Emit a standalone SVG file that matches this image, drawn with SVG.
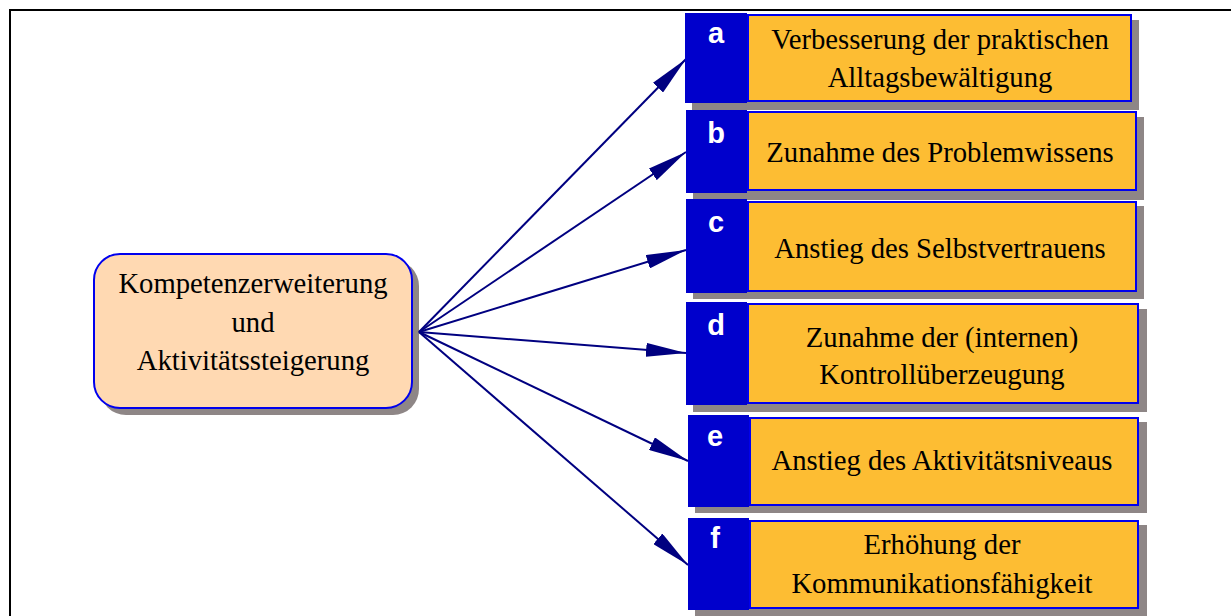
<svg xmlns="http://www.w3.org/2000/svg" width="1231" height="616" viewBox="0 0 1231 616">
<defs>
<style>
.frame{fill:none;stroke:#000;stroke-width:2}
.sh{fill:#8E8686}
.tab{fill:#0000CC}
.box{fill:#FDBD33;stroke:#0000EE;stroke-width:2}
.main{fill:#FFD9B2;stroke:#0000EE;stroke-width:2}
.t{font-family:"Liberation Serif","Times New Roman",serif;font-size:28.7px;fill:#000;text-anchor:middle}
.l{font-family:"Liberation Sans",Arial,sans-serif;font-size:29px;font-weight:bold;fill:#fff;text-anchor:middle}
.c{fill:none;stroke:#000080;stroke-width:2}
</style>
<marker id="ah" markerUnits="userSpaceOnUse" viewBox="0 0 40 14" refX="40" refY="7" markerWidth="40" markerHeight="14" orient="auto">
<path d="M0,0 L40,7 L0,14 z" fill="#000080"/>
</marker>
</defs>
<rect class="frame" x="10" y="10" width="1400" height="800"/>

<g id="main">
<rect class="sh" x="100" y="260" width="319" height="155" rx="26"/>
<rect class="main" x="94" y="254" width="318" height="154" rx="26"/>
<text class="t" x="253" y="293">Kompetenzerweiterung</text>
<text class="t" x="253" y="332">und</text>
<text class="t" x="253" y="370">Aktivitätssteigerung</text>
</g>

<g id="connectors">
<line class="c" x1="419" y1="332" x2="686" y2="59" marker-end="url(#ah)"/>
<line class="c" x1="419" y1="332" x2="686" y2="152" marker-end="url(#ah)"/>
<line class="c" x1="419" y1="332" x2="686" y2="250" marker-end="url(#ah)"/>
<line class="c" x1="419" y1="332" x2="686" y2="353" marker-end="url(#ah)"/>
<line class="c" x1="419" y1="332" x2="688" y2="461" marker-end="url(#ah)"/>
<line class="c" x1="419" y1="332" x2="688" y2="565" marker-end="url(#ah)"/>
</g>

<g id="box-a">
<rect class="sh" x="692" y="20" width="447" height="90"/>
<rect class="tab" x="685" y="13" width="62" height="90"/>
<rect class="box" x="748" y="15" width="383" height="86"/>
<text class="l" x="716" y="43">a</text>
<text class="t" x="940" y="49">Verbesserung der praktischen</text>
<text class="t" x="940" y="87">Alltagsbewältigung</text>
</g>

<g id="box-b">
<rect class="sh" x="693" y="117" width="451" height="83"/>
<rect class="tab" x="686" y="110" width="61" height="83"/>
<rect class="box" x="748" y="112" width="388" height="78"/>
<text class="l" x="716" y="143">b</text>
<text class="t" x="940" y="162">Zunahme des Problemwissens</text>
</g>

<g id="box-c">
<rect class="sh" x="693" y="206" width="451" height="93"/>
<rect class="tab" x="686" y="199" width="61" height="94"/>
<rect class="box" x="748" y="202" width="388" height="89"/>
<text class="l" x="716" y="232">c</text>
<text class="t" x="940" y="258">Anstieg des Selbstvertrauens</text>
</g>

<g id="box-d">
<rect class="sh" x="693" y="309" width="454" height="103"/>
<rect class="tab" x="686" y="302" width="61" height="103"/>
<rect class="box" x="748" y="304" width="390" height="99"/>
<text class="l" x="716" y="335">d</text>
<text class="t" x="942" y="347">Zunahme der (internen)</text>
<text class="t" x="942" y="384">Kontrollüberzeugung</text>
</g>

<g id="box-e">
<rect class="sh" x="695" y="422" width="452" height="91"/>
<rect class="tab" x="688" y="415" width="61" height="92"/>
<rect class="box" x="750" y="418" width="388" height="87"/>
<text class="l" x="715" y="446">e</text>
<text class="t" x="942" y="470">Anstieg des Aktivitätsniveaus</text>
</g>

<g id="box-f">
<rect class="sh" x="695" y="525" width="452" height="91"/>
<rect class="tab" x="688" y="518" width="61" height="92"/>
<rect class="box" x="750" y="521" width="388" height="87"/>
<text class="l" x="715" y="548">f</text>
<text class="t" x="942" y="554">Erhöhung der</text>
<text class="t" x="942" y="593">Kommunikationsfähigkeit</text>
</g>
</svg>
